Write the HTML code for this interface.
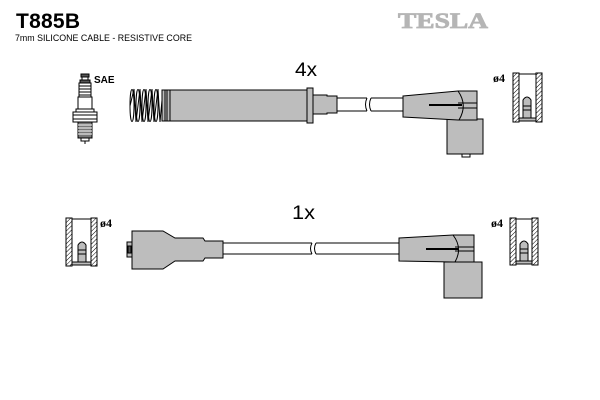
<!DOCTYPE html>
<html><head><meta charset="utf-8"><style>
html,body{margin:0;padding:0;background:#fff;}
svg{display:block;}
</style></head><body>
<svg width="600" height="400" viewBox="0 0 600 400" xmlns="http://www.w3.org/2000/svg">
<defs>
<pattern id="h" width="3" height="3" patternUnits="userSpaceOnUse" patternTransform="rotate(45)">
<rect width="3" height="3" fill="#fff"/><line x1="0" y1="0" x2="0" y2="3" stroke="#000" stroke-width="1"/>
</pattern>
</defs>
<rect width="600" height="400" fill="#fff"/>
<text x="16" y="28" font-family="Liberation Sans, sans-serif" font-weight="bold" font-size="21" textLength="64">T885B</text>
<text x="15" y="41" font-family="Liberation Sans, sans-serif" font-size="9" textLength="177" lengthAdjust="spacingAndGlyphs">7mm SILICONE CABLE - RESISTIVE CORE</text>
<text x="398" y="28" font-family="Liberation Serif, serif" font-weight="bold" font-size="22" fill="#b5b5b5" stroke="#b5b5b5" stroke-width="0.8" textLength="90" lengthAdjust="spacingAndGlyphs">TESLA</text>

<text x="295" y="76" font-family="Liberation Sans, sans-serif" font-size="19" textLength="22" lengthAdjust="spacingAndGlyphs">4x</text>
<text x="292" y="219" font-family="Liberation Sans, sans-serif" font-size="19" textLength="23" lengthAdjust="spacingAndGlyphs">1x</text>

<!-- spark plug -->
<g stroke="#000" stroke-width="1" fill="#fff">
<rect x="81" y="74" width="8" height="3" fill="#555"/>
<rect x="82" y="77" width="6" height="3"/>
<rect x="80" y="80" width="10" height="3" fill="#555"/>
<rect x="79" y="83" width="12" height="14" fill="#fff"/>
<line x1="79" y1="86" x2="91" y2="86"/><line x1="79" y1="89" x2="91" y2="89"/><line x1="79" y1="92" x2="91" y2="92"/><line x1="79" y1="95" x2="91" y2="95"/>
<rect x="78" y="97" width="14" height="12"/>
<rect x="76" y="109" width="18" height="3"/>
<rect x="73" y="112" width="24" height="10"/>
<line x1="73" y1="115" x2="97" y2="115"/><line x1="73" y1="119" x2="97" y2="119"/>
<rect x="78" y="122" width="14" height="16" fill="#777"/>
<line x1="78" y1="125" x2="92" y2="125" stroke="#fff"/><line x1="78" y1="128" x2="92" y2="128" stroke="#fff"/><line x1="78" y1="131" x2="92" y2="131" stroke="#fff"/><line x1="78" y1="134" x2="92" y2="134" stroke="#fff"/>
<rect x="81" y="138" width="8" height="3"/>
<line x1="85" y1="141" x2="85" y2="144"/>
</g>
<text x="94" y="83" font-family="Liberation Sans, sans-serif" font-weight="bold" font-size="10">SAE</text>

<!-- top cable -->
<g stroke="#000" stroke-width="1" fill="#bdbdbd">
<g fill="none">
<ellipse cx="132" cy="105.5" rx="2" ry="16"/>
<ellipse cx="138" cy="105.5" rx="2" ry="16"/>
<ellipse cx="144" cy="105.5" rx="2" ry="16"/>
<ellipse cx="150" cy="105.5" rx="2" ry="16"/>
<ellipse cx="156" cy="105.5" rx="2" ry="16"/>
<polyline points="130,106 134,89 136,122 140,89 142,122 146,89 148,122 152,89 154,122 158,89 160,122 162,100"/>
</g>
<rect x="162" y="90" width="8" height="31"/>
<line x1="165" y1="90" x2="165" y2="121"/><line x1="167" y1="90" x2="167" y2="121"/>
<rect x="170" y="90" width="137" height="31"/>
<rect x="307" y="88" width="6" height="35"/>
<path d="M313,95 L327,95 L327,96 L337,96 L337,113 L327,113 L327,114 L313,114 Z"/>
<line x1="337" y1="98" x2="367" y2="98"/><line x1="337" y1="111" x2="367" y2="111"/>
<line x1="371" y1="98" x2="403" y2="98"/><line x1="371" y1="111" x2="403" y2="111"/>
<path d="M367,98 q-3,6.5 0,13 M371,98 q-3,6.5 0,13" fill="none"/>
<rect x="447" y="119" width="36" height="35"/>
<rect x="462" y="154" width="8" height="3" fill="#fff"/>
<path d="M403,96 L458,91 L477,91 L477,120 L458,120 L403,117 Z"/>
<path d="M458,91 Q468,105 459,120" fill="none"/>
<line x1="458" y1="103" x2="477" y2="103"/><line x1="458" y1="108" x2="477" y2="108"/>
<line x1="429" y1="105" x2="462" y2="105" stroke-width="2"/>
</g>

<!-- bottom cable -->
<g stroke="#000" stroke-width="1" fill="#bdbdbd">
<rect x="127" y="242" width="5" height="15"/>
<rect x="128" y="246" width="3" height="7" fill="#555"/>
<path d="M132,231 L163,231 L175,238 L203,238 L205,241 L223,241 L223,258 L205,258 L203,261 L175,261 L163,269 L132,269 Z"/>
<line x1="223" y1="243" x2="312" y2="243"/><line x1="223" y1="254" x2="312" y2="254"/>
<line x1="316" y1="243" x2="399" y2="243"/><line x1="316" y1="254" x2="399" y2="254"/>
<path d="M312,243 q-3,5.5 0,11 M316,243 q-3,5.5 0,11" fill="none"/>
<rect x="444" y="262" width="38" height="36"/>
<path d="M399,238 L453,235 L474,235 L474,262 L453,262 L399,261 Z"/>
<path d="M453,235 Q463,248 455,262" fill="none"/>
<line x1="455" y1="247" x2="474" y2="247"/><line x1="455" y1="251" x2="474" y2="251"/>
<line x1="426" y1="249" x2="458" y2="249" stroke-width="2"/>
</g>

<!-- terminals -->
<g stroke="#000" stroke-width="1">
<rect x="513" y="73" width="6" height="49" fill="url(#h)"/>
<rect x="536" y="73" width="6" height="49" fill="url(#h)"/>
<line x1="519" y1="74" x2="536" y2="74"/>
<rect x="519" y="118" width="17" height="3" fill="#bdbdbd"/>
<path d="M523,118 L523,100 Q527,94 531,100 L531,118 Z" fill="#bdbdbd"/>
<line x1="523" y1="106" x2="531" y2="106"/><line x1="523" y1="110" x2="531" y2="110"/>
</g>
<text x="493" y="82" font-family="Liberation Serif, serif" font-weight="bold" font-size="12">ø4</text>

<g stroke="#000" stroke-width="1">
<rect x="510" y="218" width="6" height="47" fill="url(#h)"/>
<rect x="532" y="218" width="6" height="47" fill="url(#h)"/>
<line x1="516" y1="219" x2="532" y2="219"/>
<rect x="516" y="261" width="16" height="3" fill="#bdbdbd"/>
<path d="M520,261 L520,244 Q524,238 528,244 L528,261 Z" fill="#bdbdbd"/>
<line x1="520" y1="249" x2="528" y2="249"/><line x1="520" y1="253" x2="528" y2="253"/>
</g>
<text x="491" y="227" font-family="Liberation Serif, serif" font-weight="bold" font-size="12">ø4</text>

<g stroke="#000" stroke-width="1">
<rect x="66" y="218" width="6" height="48" fill="url(#h)"/>
<rect x="91" y="218" width="6" height="48" fill="url(#h)"/>
<line x1="72" y1="219" x2="91" y2="219"/>
<rect x="72" y="262" width="19" height="3" fill="#bdbdbd"/>
<path d="M78,262 L78,245 Q82,239 86,245 L86,262 Z" fill="#bdbdbd"/>
<line x1="78" y1="250" x2="86" y2="250"/><line x1="78" y1="254" x2="86" y2="254"/>
</g>
<text x="100" y="227" font-family="Liberation Serif, serif" font-weight="bold" font-size="12">ø4</text>
</svg>
</body></html>
